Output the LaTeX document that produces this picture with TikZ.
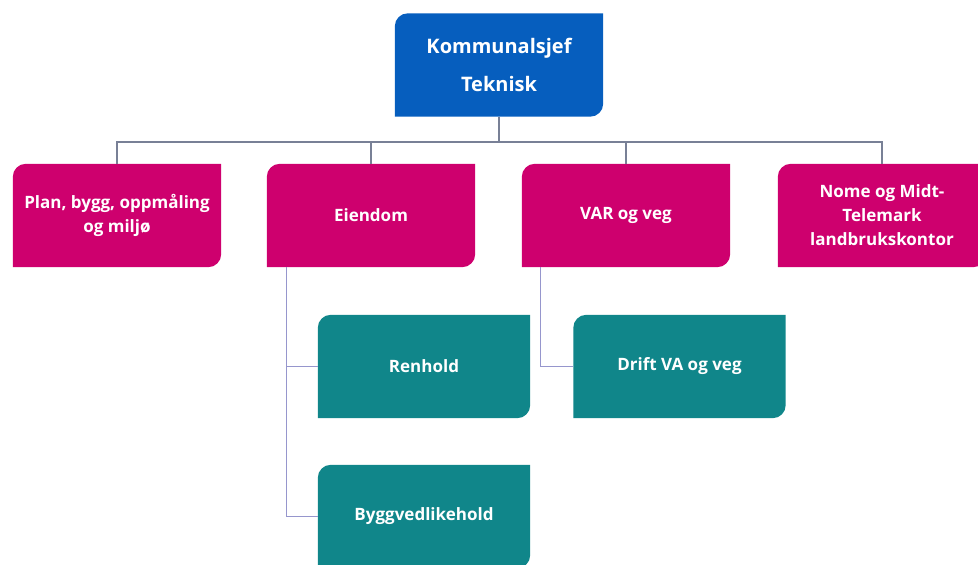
\documentclass[tikz,border=0pt]{standalone}
\usepackage{fontspec}
\setmainfont{Open Sans}
\usetikzlibrary{positioning,backgrounds}

\definecolor{chiefblue}{RGB}{6,94,190}
\definecolor{deptpink}{RGB}{206,0,110}
\definecolor{secteal}{RGB}{16,134,138}
\definecolor{linegrey}{RGB}{120,128,150}
\definecolor{linelilac}{RGB}{150,150,205}

\tikzset{
  orgbox/.style={minimum width=208pt, minimum height=103pt, inner sep=2pt,
    text=white, align=center, font=\bfseries\fontsize{17}{24}\selectfont},
  conn/.style={draw=linegrey, line width=1.3pt},
  subconn/.style={draw=linelilac, line width=1.3pt},
}
% fill with round top-left and bottom-right corners
\newcommand\orgfill[2]{\fill[#2] ([yshift=-13pt]#1.north west)
  arc[start angle=180,end angle=90,radius=13pt] -- (#1.north east)
  -- ([yshift=13pt]#1.south east) arc[start angle=0,end angle=-90,radius=13pt]
  -- (#1.south west) -- cycle;}

\begin{document}
\begin{tikzpicture}[x=1pt,y=1pt]
\useasboundingbox (0,0) rectangle (978,565);
\node[orgbox, font=\bfseries\fontsize{20}{38}\selectfont] (chef) at (499,500) {Kommunalsjef\\Teknisk};
\node[orgbox] (plan) at (117,349.5) {Plan, bygg, oppmåling\\og miljø};
\node[orgbox] (eiendom) at (371,349.5) {Eiendom};
\node[orgbox] (var) at (626,349.5) {VAR og veg};
\node[orgbox] (nome) at (882,349.5) {Nome og Midt-\\Telemark\\landbrukskontor};
\node[orgbox, minimum width=212pt] (renhold) at (424,198.5) {Renhold};
\node[orgbox, minimum width=212pt] (bygg) at (424,48.5) {Byggvedlikehold};
\node[orgbox, minimum width=212pt] (drift) at (679.5,198.5) {Drift VA og veg};

\begin{scope}[on background layer]
\orgfill{chef}{chiefblue}
\foreach \n in {plan,eiendom,var,nome}
  {\orgfill{\n}{deptpink}}
\foreach \n in {renhold,bygg,drift}
  {\orgfill{\n}{secteal}}
\end{scope}

\coordinate (bus) at (499,423);
\draw[conn] (chef.south) -- (bus);
\foreach \n in {plan,eiendom,var,nome}
  \draw[conn] (bus) -| (\n.north);

\coordinate (eleg) at ([xshift=20pt]eiendom.south west);
\coordinate (vleg) at ([xshift=19pt]var.south west);
\draw[subconn] (eleg) |- (renhold.west);
\draw[subconn] (eleg) |- (bygg.west);
\draw[subconn] (vleg) |- (drift.west);
\end{tikzpicture}
\end{document}
